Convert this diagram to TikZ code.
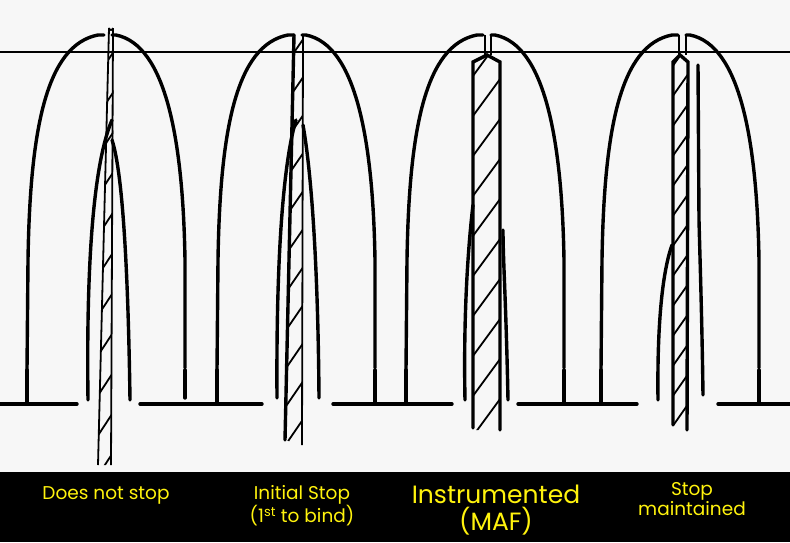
\documentclass[tikz,border=0pt]{standalone}
\usepackage{fontspec}
\setmainfont{Poppins}
\tikzset{
  ink/.style={line width=3.4pt, line cap=round},
  thin/.style={line width=1.8pt},
  lbl/.style={text=yellow!95!white, align=center, font=\fontsize{18.5}{20}\selectfont, inner sep=0pt},
  pics/outer/.style={code={
    \draw[ink] (-79,370) -- (-78,260) .. controls (-76,130) and (-60,45) .. (-8,35) -- (-2,35);
    \draw[ink] (6,35) -- (10,35) .. controls (60,45) and (77,140) .. (79,260) -- (79,368);
  }}
}
\begin{document}
\begin{tikzpicture}[x=1pt,y=-1pt]
\useasboundingbox (0,0) rectangle (790,542);
\fill[white!97!black] (0,0) rectangle (790,472);
\fill[black] (0,472) rectangle (790,542);
% top reference line
\draw[thin] (0,52) -- (790,52);
% baselines
\draw[ink] (0,404) -- (77,404);
\draw[ink] (140,404) -- (262,404);
\draw[ink] (333,404) -- (452,404);
\draw[ink] (518,404) -- (637,404);
\draw[ink] (718,404) -- (790,404);
% outer walls
\pic at (106,0) {outer};
\draw[ink] (27,370) -- (27,404);
\pic at (296,0) {outer};
\draw[ink] (217,370) -- (217,404);
\draw[ink] (375,370) -- (375,404);
\pic at (485,0) {outer};
\draw[ink] (406,370) -- (406,404);
\draw[ink] (564,370) -- (564,404);
\pic at (680,0) {outer};
\draw[ink] (601,370) -- (601,404);
\draw[ink] (759,370) -- (759,404);
\draw[ink] (185,370) -- (185,398);
% ---- panel 1 ----
\draw[ink] (88,400) .. controls (86,250) and (95,160) .. (112,120);
\draw[ink] (130,400) .. controls (128,260) and (122,170) .. (112,140);
\begin{scope}
\clip (110,25) -- (114,25) -- (111,465) -- (98,465) -- cycle;
\foreach \k in {0,...,11} \draw[thin] (95,480-40*\k) -- (118,445-40*\k);
\end{scope}
\draw[thin] (109,28) -- (98,465);
\draw[thin] (113,28) -- (111,465);
\draw[thin] (109,28) arc (180:0:2);
% ---- panel 2 ----
\draw[ink] (277,398) .. controls (276,250) and (284,160) .. (296,120);
\draw[ink] (319,398) .. controls (318,260) and (311,170) .. (303,125);
\begin{scope}
\clip (294,35) -- (303,35) -- (302,445) -- (285,440) -- cycle;
\foreach \k in {0,...,11} \draw[thin] (282,450-38*\k) -- (306,415-38*\k);
\end{scope}
\draw[ink] (294,35) -- (285,440);
\draw[thin] (303,35) -- (302,445);
% ---- panel 3 ----
\draw[ink] (465,400) .. controls (463,300) and (470,230) .. (473,205);
\draw[ink] (508,400) .. controls (506,300) and (503,260) .. (503,230);
\draw[thin] (485,35) -- (485,55);
\draw[thin] (491,35) -- (491,55);
\begin{scope}
\clip (473,62) -- (487,55) -- (500,62) -- (500,430) -- (473,430) -- cycle;
\foreach \k in {0,...,11} \draw[thin] (470,440-40*\k) -- (503,395-40*\k);
\end{scope}
\draw[ink] (473,428) -- (473,62) -- (487,55) -- (500,62) -- (500,430);
% ---- panel 4 ----
\draw[ink] (658,400) .. controls (657,320) and (663,270) .. (672,245);
\draw[ink] (703,395) .. controls (702,320) and (700,260) .. (699,220) -- (698,65);
\draw[thin] (679,35) -- (679,55);
\draw[thin] (686,35) -- (686,55);
\begin{scope}
\clip (673,62) -- (680,55) -- (688,62) -- (687,430) -- (673,425) -- cycle;
\foreach \k in {0,...,14} \draw[thin] (670,430-30*\k) -- (691,400-30*\k);
\end{scope}
\draw[ink] (673,425) -- (673,62) -- (680,55) -- (688,62) -- (687,430);
% labels
\node[lbl] (l1) at (106,495) {Does not stop};
\node[lbl] (l2) at (302,506) {Initial Stop\\(1\textsuperscript{st} to bind)};
\node[lbl, font=\fontsize{25}{27}\selectfont] (l3) at (496,510) {Instrumented\\(MAF)};
\node[lbl] (l4) at (692,499) {Stop\\maintained};
\end{tikzpicture}
\end{document}
